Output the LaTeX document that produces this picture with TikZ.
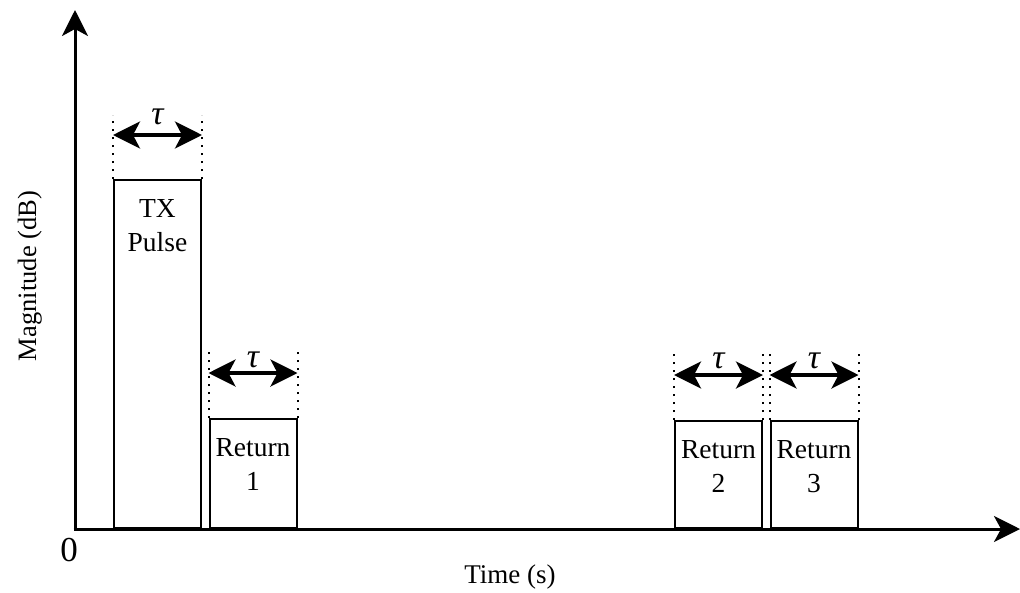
\documentclass[tikz,border=0pt]{standalone}
\usepackage{fontspec}
\setmainfont{Liberation Serif}
\usetikzlibrary{arrows.meta}
\begin{document}
\begin{tikzpicture}[x=1pt,y=-1pt,
  axisline/.style={line width=3pt,-{Stealth[length=26pt,width=26pt,inset=7pt]}},
  pulsebox/.style={draw,line width=2pt,minimum width=87pt,inner sep=0pt,anchor=south west},
  guide/.style={line width=2pt,dash pattern=on 2pt off 6pt},
  span/.style={line width=3.5pt,{Stealth[length=27pt,width=27pt,inset=7pt]}-{Stealth[length=27pt,width=27pt,inset=7pt]}},
  lbl/.style={font=\fontsize{27.5}{34}\selectfont,align=center,inner sep=0pt},
  taulbl/.style={font=\fontsize{34}{38}\selectfont\itshape,inner sep=0pt}
]
\useasboundingbox (0,0) rectangle (1020,592);
\coordinate (origin) at (75,529);
\coordinate (ytip) at (75,10);
\coordinate (xtip) at (1020,529);
\draw[axisline] ([yshift=-1.5pt]origin) -- (ytip);
\draw[axisline] ([xshift=-1.5pt]origin) -- (xtip);

\node[pulsebox,minimum height=348pt] (tx) at (113,529) {};
\node[pulsebox,minimum height=109pt] (r1) at (208.5,529) {};
\node[pulsebox,minimum height=107pt] (r2) at (674,529) {};
\node[pulsebox,minimum height=107pt] (r3) at (769.5,529) {};

\node[lbl,anchor=north] (txt) at ([yshift=-20pt]tx.north) {TX\\Pulse};
\node[lbl,anchor=north] (r1t) at ([yshift=-20pt]r1.north) {Return\\1};
\node[lbl,anchor=north] (r2t) at ([yshift=-20pt]r2.north) {Return\\2};
\node[lbl,anchor=north] (r3t) at ([yshift=-20pt]r3.north) {Return\\3};

\foreach \b/\h in {tx/64,r1/66,r2/66,r3/66}{
  \draw[guide] (\b.north west) -- ([yshift=\h pt]\b.north west);
  \draw[guide] (\b.north east) -- ([yshift=\h pt]\b.north east);
}
\foreach \b/\a/\t in {tx/44/62,r1/45/58,r2/45/59,r3/45/59}{
  \draw[span] ([yshift=\a pt]\b.north west) -- ([yshift=\a pt]\b.north east);
  \node[taulbl] at ([yshift=\t pt]\b.north) {τ};
}

\node[font=\fontsize{35}{40}\selectfont,inner sep=0pt] (zero) at (69,550) {0};
\node[font=\fontsize{27}{30}\selectfont,inner sep=0pt,anchor=base] (xlab) at (510,583) {Time (s)};
\node[font=\fontsize{26.5}{30}\selectfont,inner sep=0pt,anchor=base,rotate=90] (ylab) at (36,276) {Magnitude (dB)};
\end{tikzpicture}
\end{document}
